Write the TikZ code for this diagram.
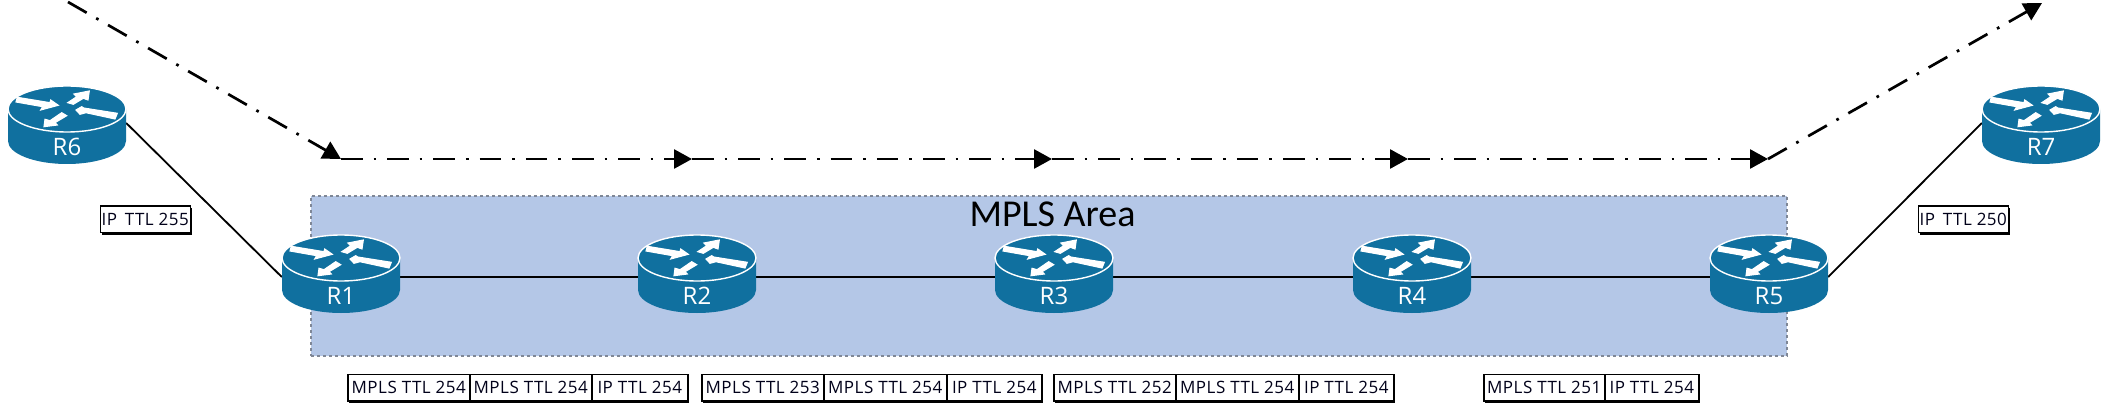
\documentclass[tikz,border=0pt]{standalone}
\usepackage{fontspec}
\setmainfont{Open Sans}
\newfontfamily\areafont{Carlito}
\newfontfamily\boxfont[LetterSpace=3]{Open Sans}
\usetikzlibrary{arrows.meta,shadows}
\definecolor{routerblue}{HTML}{10709F}
\definecolor{areafill}{HTML}{B4C7E7}
\definecolor{areaedge}{HTML}{7F8796}
\tikzset{
  x=1pt,y=-1pt,
  link/.style={line width=1.8pt,draw=black},
  flow/.style={line width=2.7pt,draw=black,dash pattern=on 21.5pt off 11pt on 2.7pt off 11pt,
    -{Triangle[length=18pt,width=19pt]}},
  rnode/.style={inner sep=0pt,minimum width=118pt,minimum height=40pt},
  rlabel/.style={text=white,font=\fontsize{24}{26}\selectfont,inner sep=0pt},
  tbox/.style={draw=black,line width=1.5pt,fill=white,inner sep=0pt,minimum height=26.5pt,
    font=\boxfont\fontsize{17}{19}\selectfont,text=black!90!blue,anchor=west,
    drop shadow={shadow xshift=1.6pt,shadow yshift=-2.6pt,fill=black,opacity=1}},
  rarrowshape/.style={fill=white,draw=white,line width=1.1pt,line join=miter},
  router/.pic={
    \path[fill=routerblue] (-59,0) -- (-59,32) arc[x radius=59,y radius=23,start angle=180,end angle=0] -- (59,0) -- cycle;
    \path[fill=routerblue,draw=white,line width=1.4pt] (0,0) ellipse[x radius=59,y radius=23];
    \path[rarrowshape] (-49.7,-11.7) -- (-17,-6.3) -- (-16.3,-9) -- (-8.7,-3.7) -- (-26.3,1) -- (-24.3,-2.3) -- (-51,-7) -- cycle;
    \path[rarrowshape] (0.7,-6.3) -- (9.7,-12.3) -- (7,-15) -- (22.3,-18) -- (21,-9) -- (16.3,-10.7) -- (6.3,-4.7) -- cycle;
    \path[rarrowshape] (9,1) -- (14.7,-2.3) -- (16.7,-1) -- (50.3,4.3) -- (48,10) -- (19,3.7) -- (13,5.3) -- cycle;
    \path[rarrowshape] (-23,17.7) -- (-22,10.3) -- (-17,11.7) -- (-5.3,3.7) -- (-0.3,6.7) -- (-12,13.7) -- (-9.7,16) -- cycle;
  }
}
\begin{document}
\begin{tikzpicture}
\useasboundingbox (0,0) rectangle (2108,406);
\path[fill=white] (0,0) rectangle (2108,406);

\node[draw=areaedge,dashed,line width=1.2pt,fill=areafill,inner sep=0pt,minimum width=1476pt,minimum height=160pt] (area) at (1049,276) {};
\node[font=\areafont\fontsize{38}{40}\selectfont,inner sep=0pt,text=black] (areat) at (1052.5,214) {MPLS Area};

\node[rnode] (R6) at (67,123) {};
\node[rnode] (R1) at (341,277) {};
\node[rnode] (R2) at (697,277) {};
\node[rnode] (R3) at (1054,277) {};
\node[rnode] (R4) at (1412,277) {};
\node[rnode] (R5) at (1769,277) {};
\node[rnode] (R7) at (2041,123) {};

\draw[link] (R6.east) -- (R1.west);
\draw[link] (R1.east) -- (R2.west);
\draw[link] (R2.east) -- (R3.west);
\draw[link] (R3.east) -- (R4.west);
\draw[link] (R4.east) -- (R5.west);
\draw[link] (R5.east) -- (R7.west);

\pic at (67,109) {router};
\pic at (341,258) {router};
\pic at (697,258) {router};
\pic at (1054,258) {router};
\pic at (1412,258) {router};
\pic at (1769,258) {router};
\pic at (2041,109) {router};

\node[rlabel] (l6) at (67,147) {R6};
\node[rlabel] (l1) at (341,296) {R1};
\node[rlabel] (l2) at (697,296) {R2};
\node[rlabel] (l3) at (1054,296) {R3};
\node[rlabel] (l4) at (1412,296) {R4};
\node[rlabel] (l5) at (1769,296) {R5};
\node[rlabel] (l7) at (2041,147) {R7};

\coordinate (s) at (68,2);
\coordinate (f1) at (341,159);
\coordinate (f2) at (692,159);
\coordinate (f3) at (1052,159);
\coordinate (f4) at (1408,159);
\coordinate (f5) at (1768,159);
\coordinate (e) at (2042,3);
\draw[flow] (s) -- (f1);
\draw[flow] (f1) -- (f2);
\draw[flow] (f2) -- (f3);
\draw[flow] (f3) -- (f4);
\draw[flow] (f4) -- (f5);
\draw[flow] (f5) -- (e);

\node[tbox,minimum width=90pt] (t0) at (99.5,219) {IP\, TTL 255};
\node[tbox,minimum width=90pt] (t9) at (1917.5,219) {IP\, TTL 250};

\node[tbox,minimum width=122pt] (a1) at (347,387.5) {MPLS TTL 254};
\node[tbox,minimum width=122pt] (a2) at (469,387.5) {MPLS TTL 254};
\node[tbox,minimum width=96pt] (a3) at (591,387.5) {IP TTL 254};

\node[tbox,minimum width=122pt] (b1) at (701,387.5) {MPLS TTL 253};
\node[tbox,minimum width=123pt] (b2) at (823,387.5) {MPLS TTL 254};
\node[tbox,minimum width=95pt] (b3) at (946,387.5) {IP TTL 254};

\node[tbox,minimum width=122pt] (c1) at (1053,387.5) {MPLS TTL 252};
\node[tbox,minimum width=123pt] (c2) at (1175,387.5) {MPLS TTL 254};
\node[tbox,minimum width=95pt] (c3) at (1298,387.5) {IP TTL 254};

\node[tbox,minimum width=121pt] (d1) at (1483,387.5) {MPLS TTL 251};
\node[tbox,minimum width=94pt] (d2) at (1604,387.5) {IP TTL 254};
\end{tikzpicture}
\end{document}
